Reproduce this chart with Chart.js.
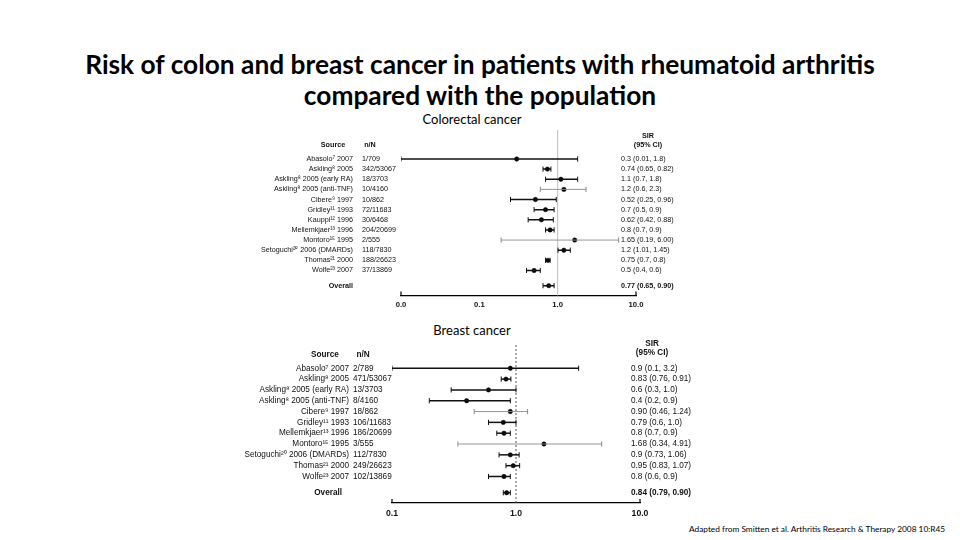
<!DOCTYPE html>
<html>
<head>
<meta charset="utf-8">
<script src="https://cdn.jsdelivr.net/npm/chart.js@4.4.1/dist/chart.umd.min.js"></script>
<style>
  html, body { margin: 0; padding: 0; background: #fff; }
  #page { position: relative; width: 960px; height: 540px; overflow: hidden; }
  canvas { position: absolute; left: 0; top: 0; }
  .txt { position: absolute; white-space: nowrap; font-family: Lato, "Open Sans", sans-serif; color: #000; }
  #title { left: 0; width: 960px; top: 49px; text-align: center; font-size: 26.3px; font-weight: bold; line-height: 31px; }
  .sub { left: 0; width: 944px; text-align: center; font-size: 13px; }
  #foot { left: 689px; top: 524px; font-size: 8.3px; }
</style>
</head>
<body>
<div id="page">
  <div id="title" class="txt">Risk of colon and breast cancer in patients with rheumatoid arthritis<br>compared with the population</div>
  <div class="txt sub" style="top:111px">Colorectal cancer</div>
  <div class="txt sub" style="top:322px">Breast cancer</div>
  <div id="foot" class="txt">Adapted from Smitten et al. Arthritis Research &amp; Therapy 2008 10:R45</div>
  <div style="position:absolute;left:0;top:0;width:960px;height:540px"><canvas id="colonChart"></canvas></div>
  <div style="position:absolute;left:0;top:0;width:960px;height:540px"><canvas id="breastChart"></canvas></div>
</div>
<script>
// Colorectal cancer
const colonSources = ["Abasolo\u2077 2007", "Askling\u2078 2005", "Askling\u2078 2005 (early RA)", "Askling\u2078 2005 (anti-TNF)",
    "Cibere\u2079 1997", "Gridley\u00b9\u00b9 1993", "Kauppi\u00b9\u00b2 1996", "Mellemkjaer\u00b9\u00b3 1996",
    "Montoro\u00b9\u2075 1995", "Setoguchi\u00b2\u2070 2006 (DMARDs)", "Thomas\u00b2\u00b9 2000", "Wolfe\u00b2\u00b3 2007", "Overall"];
const colonCounts = ["1/709", "342/53067", "18/3703", "10/4160", "10/862", "72/11683", "30/6468", "204/20699",
    "2/555", "118/7830", "188/26623", "37/13869", ""];
const colonSir = [0.3, 0.74, 1.1, 1.2, 0.52, 0.7, 0.62, 0.8, 1.65, 1.2, 0.75, 0.5, 0.77];
const colonLow = [0.01, 0.65, 0.7, 0.6, 0.25, 0.5, 0.42, 0.7, 0.19, 1.01, 0.7, 0.4, 0.65];
const colonHigh = [1.8, 0.82, 1.8, 2.3, 0.96, 0.9, 0.88, 0.9, 6.0, 1.45, 0.8, 0.6, 0.9];
const colonText = ["0.3 (0.01, 1.8)", "0.74 (0.65, 0.82)", "1.1 (0.7, 1.8)", "1.2 (0.6, 2.3)", "0.52 (0.25, 0.96)",
    "0.7 (0.5, 0.9)", "0.62 (0.42, 0.88)", "0.8 (0.7, 0.9)", "1.65 (0.19, 6.00)", "1.2 (1.01, 1.45)",
    "0.75 (0.7, 0.8)", "0.5 (0.4, 0.6)", "0.77 (0.65, 0.90)"];
const colonRows = [0, 1, 2, 3, 4, 5, 6, 7, 8, 9, 10, 11, 12.5];
const colonTickValues = [0.01, 0.1, 1, 10];
const colonTickLabels = ["0.0", "0.1", "1.0", "10.0"];

// Breast cancer
const breastSources = ["Abasolo\u2077 2007", "Askling\u2078 2005", "Askling\u2078 2005 (early RA)", "Askling\u2078 2005 (anti-TNF)",
    "Cibere\u2079 1997", "Gridley\u00b9\u00b9 1993", "Mellemkjaer\u00b9\u00b3 1996", "Montoro\u00b9\u2075 1995",
    "Setoguchi\u00b2\u2070 2006 (DMARDs)", "Thomas\u00b2\u00b9 2000", "Wolfe\u00b2\u00b3 2007", "Overall"];
const breastCounts = ["2/789", "471/53067", "13/3703", "8/4160", "18/862", "106/11683", "186/20699", "3/555",
    "112/7830", "249/26623", "102/13869", ""];
const breastSir = [0.9, 0.83, 0.6, 0.4, 0.9, 0.79, 0.8, 1.68, 0.9, 0.95, 0.8, 0.84];
const breastLow = [0.1, 0.76, 0.3, 0.2, 0.46, 0.6, 0.7, 0.34, 0.73, 0.83, 0.6, 0.79];
const breastHigh = [3.2, 0.91, 1.0, 0.9, 1.24, 1.0, 0.9, 4.91, 1.06, 1.07, 0.9, 0.9];
const breastText = ["0.9 (0.1, 3.2)", "0.83 (0.76, 0.91)", "0.6 (0.3, 1.0)", "0.4 (0.2, 0.9)", "0.90 (0.46, 1.24)",
    "0.79 (0.6, 1.0)", "0.8 (0.7, 0.9)", "1.68 (0.34, 4.91)", "0.9 (0.73, 1.06)", "0.95 (0.83, 1.07)",
    "0.8 (0.6, 0.9)", "0.84 (0.79, 0.90)"];
const breastRows = [0, 1, 2, 3, 4, 5, 6, 7, 8, 9, 10, 11.5];
const breastTickValues = [0.1, 1, 10];
const breastTickLabels = ["0.1", "1.0", "10.0"];

const FONT = "'Liberation Sans', Arial, sans-serif";

function buildPanel(canvasId, p) {
    const lines = [];
    const caps = [];
    const capColors = [];
    const color = i => (p.faint.includes(i) ? "#8a8a8a" : "#111");
    p.rows.forEach((r, i) => {
        lines.push({ x: p.low[i], y: r }, { x: p.high[i], y: r }, { x: null, y: null });
        caps.push({ x: p.low[i], y: r }, { x: p.high[i], y: r });
        capColors.push(color(i), color(i));
    });
    const points = p.rows.map((r, i) => ({ x: p.sir[i], y: r }));

    const textPlugin = {
        id: "forestText",
        beforeDatasetsDraw(chart) {
            const { ctx, chartArea } = chart;
            const x1 = chart.scales.x.getPixelForValue(1);
            ctx.save();
            ctx.strokeStyle = p.refColor;
            ctx.lineWidth = 1;
            ctx.setLineDash(p.refDash);
            ctx.beginPath();
            ctx.moveTo(x1, chartArea.top);
            ctx.lineTo(x1, chartArea.bottom);
            ctx.stroke();
            ctx.restore();
        },
        afterDraw(chart) {
            const { ctx, chartArea } = chart;
            const ys = chart.scales.y;
            const xs = chart.scales.x;
            const L = p.layout;
            ctx.save();
            // end ticks of the axis
            ctx.strokeStyle = "#000";
            ctx.lineWidth = 1.2;
            [xs.min, xs.max].forEach(v => {
                const px = xs.getPixelForValue(v);
                ctx.beginPath();
                ctx.moveTo(px, chartArea.bottom);
                ctx.lineTo(px, chartArea.bottom - 4);
                ctx.stroke();
            });
            ctx.fillStyle = "#111";
            ctx.textBaseline = "middle";
            const bold = "bold " + p.fontSize + "px " + FONT;
            const normal = p.fontSize + "px " + FONT;
            ctx.font = bold;
            ctx.textAlign = "center";
            ctx.fillText("Source", L.sourceHead, L.headY);
            ctx.fillText("n/N", L.countHead, L.headY);
            ctx.fillText("SIR", L.sirHead, L.sirY1);
            ctx.fillText("(95% CI)", L.sirHead, L.sirY2);
            const last = p.rows.length - 1;
            p.rows.forEach((r, i) => {
                const y = ys.getPixelForValue(r);
                ctx.font = i === last ? bold : normal;
                ctx.textAlign = "right";
                ctx.fillText(p.sources[i], i === last ? L.overallRight : L.sourceRight, y);
                ctx.textAlign = "left";
                ctx.fillText(p.counts[i], L.countLeft, y);
                ctx.fillText(p.text[i], L.sirLeft, y);
            });
            ctx.restore();
        }
    };

    return new Chart(document.getElementById(canvasId), {
        type: "scatter",
        data: {
            datasets: [
                {
                    data: lines,
                    showLine: true,
                    spanGaps: false,
                    pointRadius: 0,
                    borderWidth: 1.4,
                    segment: {
                        borderColor: ctx => color(Math.floor(ctx.p0DataIndex / 3)),
                        borderWidth: ctx => (p.faint.includes(Math.floor(ctx.p0DataIndex / 3)) ? 0.9 : 1.5),
                    },
                },
                {
                    data: caps,
                    pointStyle: "line",
                    rotation: 90,
                    pointRadius: 2.6,
                    pointBorderWidth: 1,
                    pointBorderColor: capColors,
                },
                {
                    data: points,
                    pointStyle: "circle",
                    pointRadius: 2.2,
                    pointBackgroundColor: "#000",
                    pointBorderColor: "#000",
                    pointBorderWidth: 0.5,
                },
            ],
        },
        options: {
            responsive: true,
            maintainAspectRatio: false,
            animation: false,
            events: [],
            layout: { padding: p.padding },
            plugins: {
                legend: { display: false },
                tooltip: { enabled: false },
            },
            scales: {
                x: {
                    type: "logarithmic",
                    min: p.tickValues[0],
                    max: p.tickValues[p.tickValues.length - 1],
                    afterBuildTicks: scale => {
                        scale.ticks = p.tickValues.map(v => ({ value: v }));
                    },
                    afterFit: scale => {
                        scale.height = 20;
                    },
                    grid: { display: false, drawTicks: false },
                    border: { display: true, color: "#000", width: 1.3 },
                    ticks: {
                        autoSkip: false,
                        maxRotation: 0,
                        padding: p.tickPadding,
                        color: "#111",
                        font: { family: FONT, size: p.fontSize + 0.5, weight: "bold" },
                        callback: v => {
                            const k = p.tickValues.indexOf(v);
                            return k >= 0 ? p.tickLabels[k] : "";
                        },
                    },
                },
                y: {
                    type: "linear",
                    display: false,
                    reverse: true,
                    min: p.yMin,
                    max: p.yMax,
                },
            },
        },
        plugins: [textPlugin],
    });
}

buildPanel("colonChart", {
    sources: colonSources, counts: colonCounts, sir: colonSir, low: colonLow, high: colonHigh,
    text: colonText, rows: colonRows, tickValues: colonTickValues, tickLabels: colonTickLabels,
    faint: [3, 8],
    refColor: "#bdbdbd", refDash: [],
    fontSize: 7.2, tickPadding: 5,
    yMin: -2.86, yMax: 13.47,
    padding: { left: 401, right: 324, top: 130, bottom: 224.5 },
    layout: { sourceHead: 333, countHead: 370, headY: 145, sirHead: 648, sirY1: 136, sirY2: 145,
              sourceRight: 353, overallRight: 353, countLeft: 362, sirLeft: 621 },
});

buildPanel("breastChart", {
    sources: breastSources, counts: breastCounts, sir: breastSir, low: breastLow, high: breastHigh,
    text: breastText, rows: breastRows, tickValues: breastTickValues, tickLabels: breastTickLabels,
    faint: [4, 7],
    refColor: "#555", refDash: [2, 2],
    fontSize: 8.2, tickPadding: 5,
    yMin: -2.15, yMax: 12.45,
    padding: { left: 392, right: 320, top: 345, bottom: 17 },
    layout: { sourceHead: 325, countHead: 363, headY: 355, sirHead: 652, sirY1: 344, sirY2: 353,
              sourceRight: 349, overallRight: 342, countLeft: 353, sirLeft: 631 },
});
</script>
</body>
</html>
